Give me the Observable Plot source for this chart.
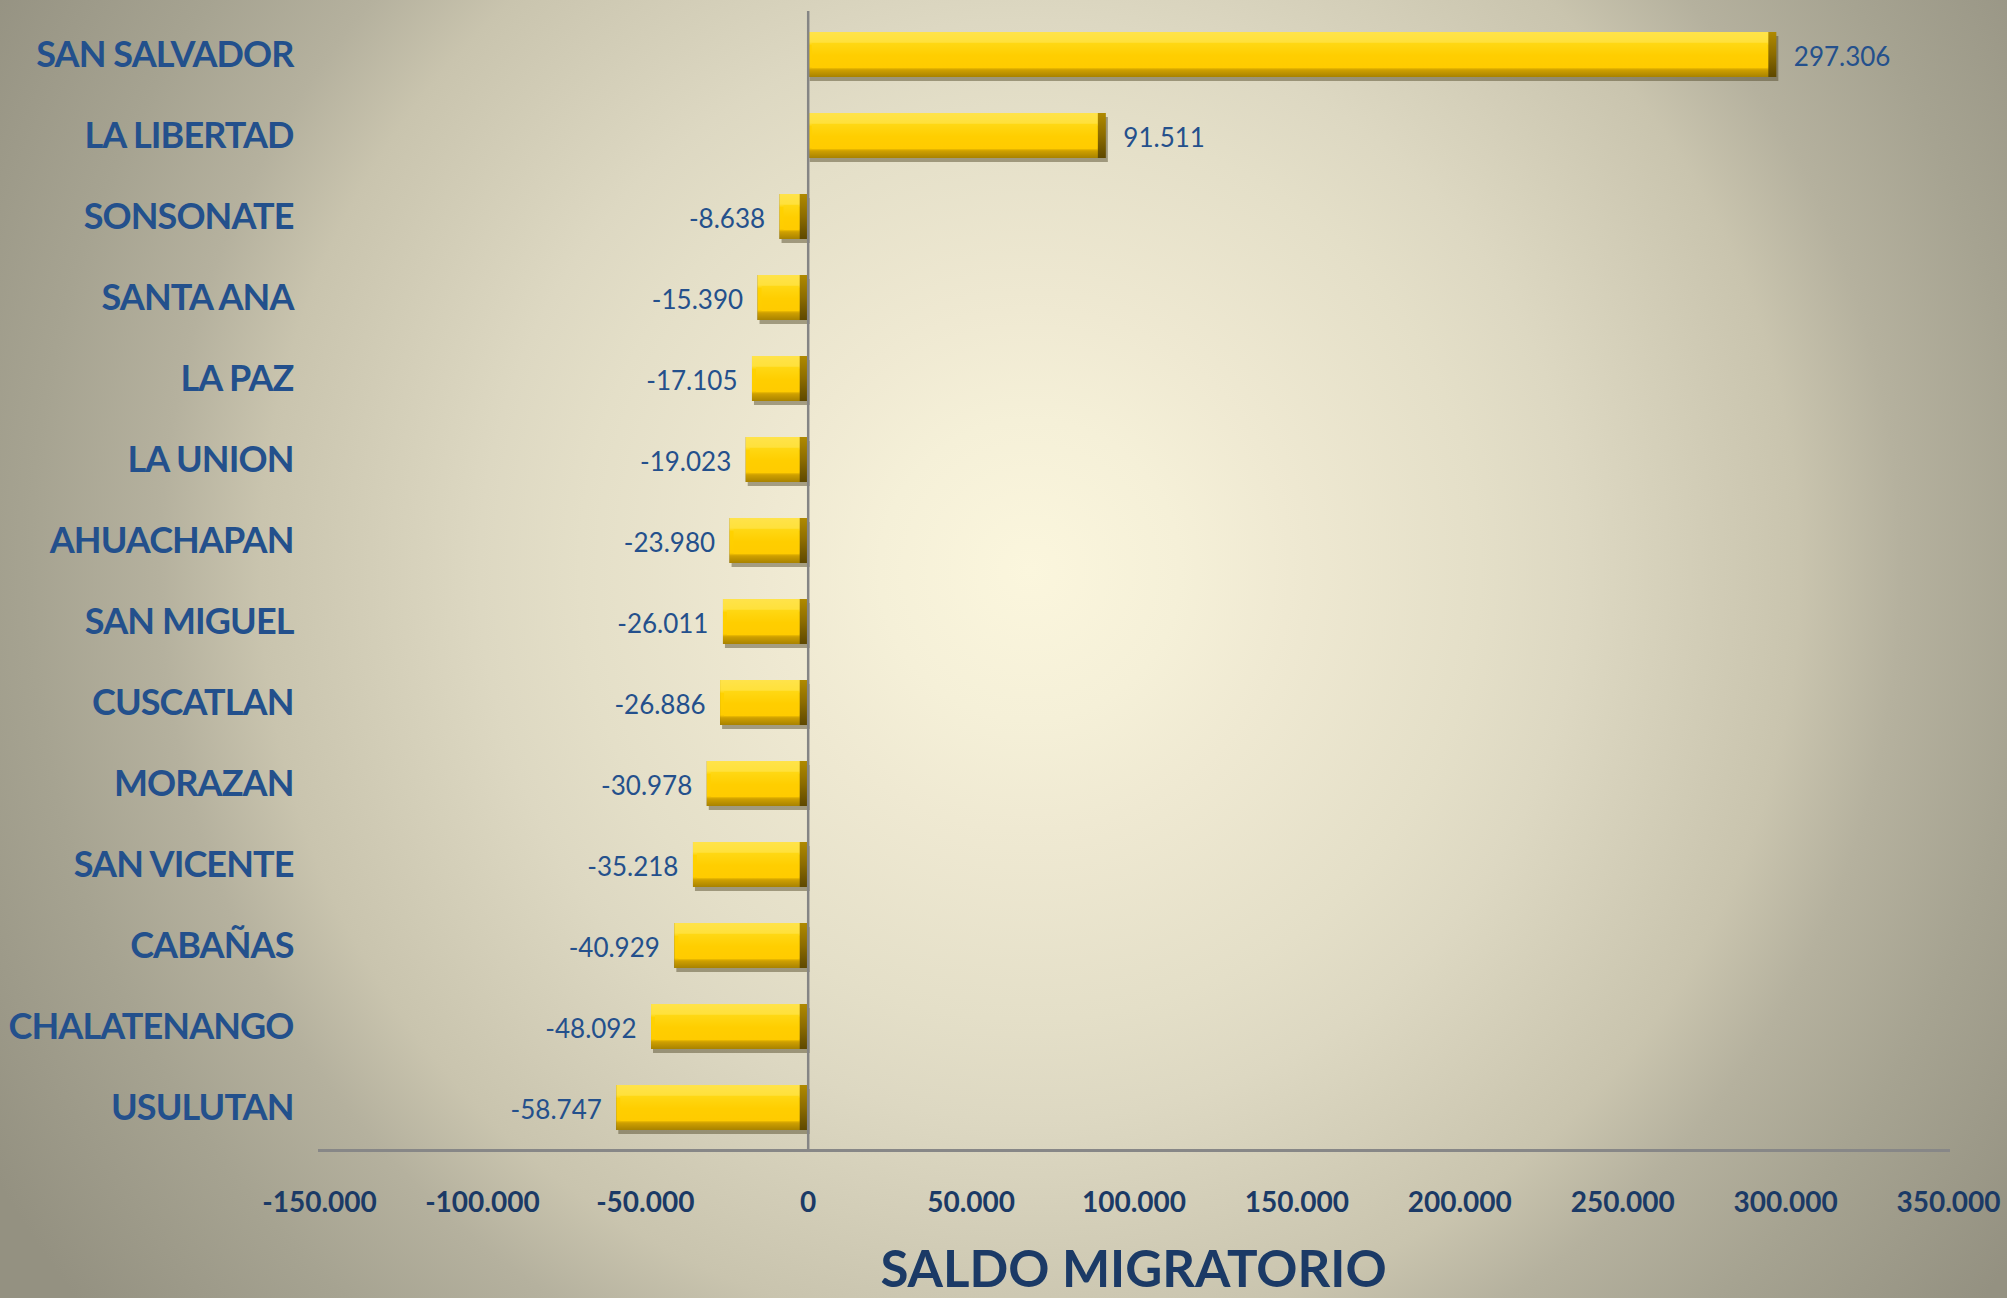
<!DOCTYPE html>
<html>
<head>
<meta charset="utf-8">
<script src="https://cdn.jsdelivr.net/npm/d3@7"></script>
<script src="https://cdn.jsdelivr.net/npm/@observablehq/plot@0.6"></script>
<style>
  html, body { margin: 0; padding: 0; }
  #page {
    position: relative; width: 2007px; height: 1298px; overflow: hidden;
    background: radial-gradient(circle at 1030px 570px, #FBF6DD 0px, #F5F0D8 150px, #EFE9D2 260px, #E4DFC8 450px, #DDD8C2 550px, #D3CEB8 660px, #C9C4AE 770px, #B5B19E 870px, #A6A391 1000px, #949181 1200px);
    font-family: Lato, "Open Sans", sans-serif;
  }
  #chart svg { display: block; background: transparent !important; }
  #title {
    position: absolute; left: 319px; width: 1629px; top: 1245px;
    text-align: center; font-family: Lato, sans-serif; font-weight: 700;
    font-size: 51px; line-height: 0.9; color: #1B3A66; white-space: nowrap;
  }
</style>
</head>
<body>
<div id="page">
  <div id="chart"></div>
  <div id="title">SALDO MIGRATORIO</div>
</div>
<script>
const categories = ["SAN SALVADOR","LA LIBERTAD","SONSONATE","SANTA ANA","LA PAZ","LA UNION","AHUACHAPAN","SAN MIGUEL","CUSCATLAN","MORAZAN","SAN VICENTE","CABAÑAS","CHALATENANGO","USULUTAN"];
const values = [297306, 91511, -8638, -15390, -17105, -19023, -23980, -26011, -26886, -30978, -35218, -40929, -48092, -58747];
const xTicks = [-150000, -100000, -50000, 0, 50000, 100000, 150000, 200000, 250000, 300000, 350000];

const data = categories.map((c, i) => ({name: c, value: values[i]}));
const fmt = d3.formatLocale({decimal: ",", thousands: ".", grouping: [3], currency: ["", ""], minus: "-"}).format(",d");

const plot = Plot.plot({
  width: 2007,
  height: 1240,
  marginLeft: 319,
  marginRight: 59,
  marginTop: 11,
  marginBottom: 90,
  style: {background: "transparent", fontFamily: "Lato, sans-serif", overflow: "visible"},
  x: {domain: [-150000, 350000], ticks: xTicks, tickFormat: fmt, tickSize: 0, tickPadding: 42, label: null},
  y: {domain: categories, paddingInner: 0.446, paddingOuter: 0.223, tickSize: 0, tickPadding: 26, label: null},
  marks: [
    Plot.frame({anchor: "bottom", stroke: "#878787", strokeWidth: 3}),
    Plot.barX(data, {x: "value", y: "name", fill: "#4a4020", fillOpacity: 0.45, dx: 2, dy: 4, ariaLabel: "shadow"}),
    Plot.barX(data, {x: "value", y: "name", fill: "url(#gEdge)"}),
    Plot.barX(data, {x: "value", y: "name", fill: "url(#gFace)", insetRight: 8}),
    Plot.barX(data, {x: "value", y: "name", fill: "url(#gCore)", insetRight: 9, insetLeft: 4, insetTop: 11, insetBottom: 9}),
    Plot.ruleX([0], {stroke: "#858585", strokeWidth: 2.5}),
    Plot.text(data.filter(d => d.value >= 0), {x: "value", y: "name", text: d => fmt(d.value), textAnchor: "start", dx: 17, dy: 3, fill: "#24508C", fontSize: 26}),
    Plot.text(data.filter(d => d.value < 0), {x: "value", y: "name", text: d => fmt(d.value), textAnchor: "end", dx: -15, dy: 3, fill: "#24508C", fontSize: 26})
  ]
});

document.getElementById("chart").appendChild(plot);

const svg = d3.select(plot);
const defs = svg.insert("defs", ":first-child");
function grad(id, stops) {
  const g = defs.append("linearGradient").attr("id", id).attr("x1", 0).attr("y1", 0).attr("x2", 0).attr("y2", 1);
  stops.forEach(([o, c]) => g.append("stop").attr("offset", o).attr("stop-color", c));
}
grad("gEdge", [[0, "#B08A00"], [0.5, "#8C6C00"], [1, "#5E4800"]]);
grad("gFace", [[0, "#FFE34A"], [0.22, "#FFE13C"], [0.3, "#FFD200"], [0.78, "#FFCC00"], [0.84, "#CFA000"], [1, "#A88200"]]);
grad("gCore", [[0, "#FFD814"], [0.5, "#FFCE00"], [1, "#FFCB00"]]);
const f = defs.append("filter").attr("id", "blur").attr("x", "-20%").attr("y", "-50%").attr("width", "140%").attr("height", "200%");
f.append("feGaussianBlur").attr("stdDeviation", 2.5);
svg.selectAll('g[aria-label="shadow"]').attr("filter", "url(#blur)");

svg.selectAll('g[aria-label^="y-axis"] text').attr("font-size", 36).attr("font-weight", 700).attr("fill", "#23508C").attr("letter-spacing", "-0.9px");
svg.selectAll('g[aria-label^="x-axis"] text').attr("font-size", 28).attr("font-weight", 700).attr("fill", "#1B3A66");
</script>
</body>
</html>
